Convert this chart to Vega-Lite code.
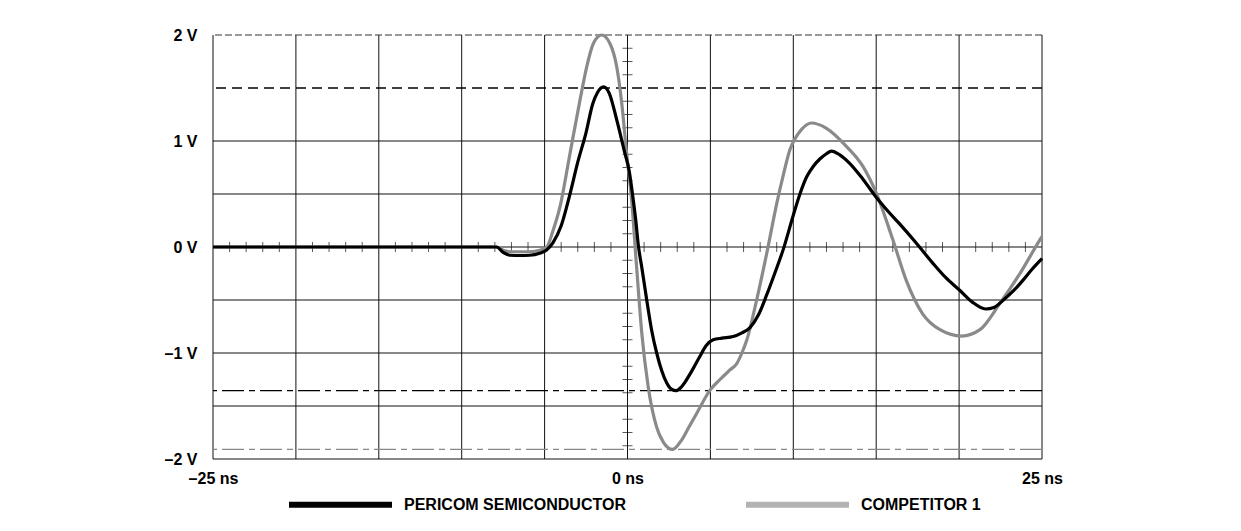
{
  "$schema": "https://vega.github.io/schema/vega-lite/v6.json",
  "width": 829,
  "height": 424,
  "autosize": {"type": "none"},
  "padding": {"left": 213, "top": 35, "right": 199, "bottom": 72},
  "background": "white",
  "config": {
    "view": {"stroke": null},
    "font": "Liberation Sans"
  },
  "layer": [
    {
      "data": {"values": [{"t": -25}, {"t": -20}, {"t": -15}, {"t": -10}, {"t": -5}, {"t": 0}, {"t": 5}, {"t": 10}, {"t": 15}, {"t": 20}, {"t": 25}]},
      "mark": {"type": "rule", "color": "#111", "strokeWidth": 1},
      "encoding": {"x": {"field": "t", "type": "quantitative", "scale": {"domain": [-25, 25], "nice": false, "zero": false}}}
    },
    {
      "data": {"values": [{"v": -2}, {"v": -1.5}, {"v": -1}, {"v": -0.5}, {"v": 0}, {"v": 0.5}, {"v": 1}]},
      "mark": {"type": "rule", "color": "#111", "strokeWidth": 1},
      "encoding": {"y": {"field": "v", "type": "quantitative", "scale": {"domain": [-2, 2], "nice": false, "zero": false}}}
    },
    {
      "data": {"values": [{"v": 1.5}]},
      "mark": {"type": "rule", "color": "#000", "strokeWidth": 1.3, "strokeDash": [10, 6]},
      "encoding": {"y": {"field": "v", "type": "quantitative"}}
    },
    {
      "data": {"values": [{"v": 2}]},
      "mark": {"type": "rule", "color": "#333", "strokeWidth": 1, "strokeDash": [7, 3]},
      "encoding": {"y": {"field": "v", "type": "quantitative"}}
    },
    {
      "data": {"values": [{"v": -1.355}]},
      "mark": {"type": "rule", "color": "#000", "strokeWidth": 1.3, "strokeDash": [22, 5, 6, 5]},
      "encoding": {"y": {"field": "v", "type": "quantitative"}}
    },
    {
      "data": {"values": [{"v": -1.91}]},
      "mark": {"type": "rule", "color": "#888", "strokeWidth": 1.3, "strokeDash": [22, 5, 6, 5]},
      "encoding": {"y": {"field": "v", "type": "quantitative"}}
    },
    {
      "data": {"values": [{"t": -24}, {"t": -23}, {"t": -22}, {"t": -21}, {"t": -19}, {"t": -18}, {"t": -17}, {"t": -16}, {"t": -14}, {"t": -13}, {"t": -12}, {"t": -11}, {"t": -9}, {"t": -8}, {"t": -7}, {"t": -6}, {"t": -4}, {"t": -3}, {"t": -2}, {"t": -1}, {"t": 1}, {"t": 2}, {"t": 3}, {"t": 4}, {"t": 6}, {"t": 7}, {"t": 8}, {"t": 9}, {"t": 11}, {"t": 12}, {"t": 13}, {"t": 14}, {"t": 16}, {"t": 17}, {"t": 18}, {"t": 19}, {"t": 21}, {"t": 22}, {"t": 23}, {"t": 24}]},
      "mark": {"type": "tick", "orient": "vertical", "color": "#111", "size": 10, "thickness": 1},
      "encoding": {
        "x": {"field": "t", "type": "quantitative"},
        "y": {"datum": 0, "type": "quantitative"}
      }
    },
    {
      "data": {"values": [{"v": -1.875}, {"v": -1.75}, {"v": -1.625}, {"v": -1.375}, {"v": -1.25}, {"v": -1.125}, {"v": -0.875}, {"v": -0.75}, {"v": -0.625}, {"v": -0.375}, {"v": -0.25}, {"v": -0.125}, {"v": 0.125}, {"v": 0.25}, {"v": 0.375}, {"v": 0.625}, {"v": 0.75}, {"v": 0.875}, {"v": 1.125}, {"v": 1.25}, {"v": 1.375}, {"v": 1.625}, {"v": 1.75}, {"v": 1.875}]},
      "mark": {"type": "tick", "orient": "horizontal", "color": "#111", "size": 10, "thickness": 1},
      "encoding": {
        "y": {"field": "v", "type": "quantitative"},
        "x": {"datum": 0, "type": "quantitative"}
      }
    },
    {
      "data": {"name": "traces"},
      "mark": {"type": "line", "strokeWidth": 1, "interpolate": "monotone"},
      "encoding": {
        "x": {"field": "ns", "type": "quantitative"},
        "y": {"field": "volts", "type": "quantitative"},
        "detail": {"field": "series", "type": "nominal"},
        "stroke": {
          "field": "series", "type": "nominal",
          "scale": {"domain": ["PERICOM SEMICONDUCTOR", "COMPETITOR 1"], "range": ["#000000", "#b3b3b3"]},
          "legend": {
            "orient": "none", "legendX": 73, "legendY": 415, "direction": "horizontal", "title": null,
            "symbolType": "stroke", "symbolSize": 10609, "symbolStrokeWidth": 6,
            "labelFont": "Liberation Sans", "labelFontWeight": "bold", "labelFontSize": 16, "labelColor": "black",
            "labelOffset": 9, "labelLimit": 400, "columnPadding": 108
          }
        }
      }
    },
    {
      "data": {"name": "traces"},
      "transform": [{"filter": "datum.series == 'COMPETITOR 1'"}],
      "mark": {"type": "line", "strokeWidth": 3.2, "interpolate": "monotone"},
      "encoding": {
        "x": {"field": "ns", "type": "quantitative"},
        "y": {"field": "volts", "type": "quantitative"},
        "color": {"field": "series", "type": "nominal"}
      }
    },
    {
      "data": {"name": "traces"},
      "transform": [{"filter": "datum.series == 'PERICOM SEMICONDUCTOR'"}],
      "mark": {"type": "line", "strokeWidth": 3.2, "interpolate": "monotone"},
      "encoding": {
        "x": {
          "field": "ns", "type": "quantitative",
          "axis": {"values": [-25, 0, 25], "labelExpr": "datum.value == 0 ? '0 ns' : (datum.value < 0 ? '\u201325 ns' : '25 ns')", "title": null, "domain": false, "ticks": false, "grid": false, "labelFlush": false, "labelOverlap": false, "labelFont": "Liberation Sans", "labelFontWeight": "bold", "labelFontSize": 16, "labelColor": "black", "labelPadding": 11}
        },
        "y": {
          "field": "volts", "type": "quantitative",
          "axis": {"values": [-2, -1, 0, 1, 2], "labelExpr": "(datum.value < 0 ? '\u2013' + abs(datum.value) : datum.value) + ' V'", "title": null, "domain": false, "ticks": false, "grid": false, "labelFlush": false, "labelOverlap": false, "labelFont": "Liberation Sans", "labelFontWeight": "bold", "labelFontSize": 16, "labelColor": "black", "labelPadding": 16}
        },
        "color": {
          "field": "series", "type": "nominal",
          "scale": {"domain": ["PERICOM SEMICONDUCTOR", "COMPETITOR 1"], "range": ["#000000", "#8a8a8a"]},
          "legend": null
        }
      }
    }
  ],
  "datasets": {
    "traces": [
      {"series": "PERICOM SEMICONDUCTOR", "ns": -25, "volts": 0},
      {"series": "PERICOM SEMICONDUCTOR", "ns": -15, "volts": 0},
      {"series": "PERICOM SEMICONDUCTOR", "ns": -7.9, "volts": 0},
      {"series": "PERICOM SEMICONDUCTOR", "ns": -7.5, "volts": -0.05},
      {"series": "PERICOM SEMICONDUCTOR", "ns": -7.1, "volts": -0.078},
      {"series": "PERICOM SEMICONDUCTOR", "ns": -6.5, "volts": -0.08},
      {"series": "PERICOM SEMICONDUCTOR", "ns": -5.9, "volts": -0.078},
      {"series": "PERICOM SEMICONDUCTOR", "ns": -5.3, "volts": -0.06},
      {"series": "PERICOM SEMICONDUCTOR", "ns": -4.9, "volts": -0.03},
      {"series": "PERICOM SEMICONDUCTOR", "ns": -4.5, "volts": 0.04},
      {"series": "PERICOM SEMICONDUCTOR", "ns": -4.0, "volts": 0.2},
      {"series": "PERICOM SEMICONDUCTOR", "ns": -3.5, "volts": 0.48},
      {"series": "PERICOM SEMICONDUCTOR", "ns": -3.0, "volts": 0.8},
      {"series": "PERICOM SEMICONDUCTOR", "ns": -2.5, "volts": 1.08},
      {"series": "PERICOM SEMICONDUCTOR", "ns": -2.1, "volts": 1.35},
      {"series": "PERICOM SEMICONDUCTOR", "ns": -1.8, "volts": 1.46},
      {"series": "PERICOM SEMICONDUCTOR", "ns": -1.45, "volts": 1.51},
      {"series": "PERICOM SEMICONDUCTOR", "ns": -1.1, "volts": 1.45},
      {"series": "PERICOM SEMICONDUCTOR", "ns": -0.65, "volts": 1.2},
      {"series": "PERICOM SEMICONDUCTOR", "ns": -0.15, "volts": 0.88},
      {"series": "PERICOM SEMICONDUCTOR", "ns": 0.1, "volts": 0.72},
      {"series": "PERICOM SEMICONDUCTOR", "ns": 0.3, "volts": 0.5},
      {"series": "PERICOM SEMICONDUCTOR", "ns": 0.5, "volts": 0.25},
      {"series": "PERICOM SEMICONDUCTOR", "ns": 0.65, "volts": 0.02},
      {"series": "PERICOM SEMICONDUCTOR", "ns": 0.86, "volts": -0.19},
      {"series": "PERICOM SEMICONDUCTOR", "ns": 1.16, "volts": -0.5},
      {"series": "PERICOM SEMICONDUCTOR", "ns": 1.45, "volts": -0.78},
      {"series": "PERICOM SEMICONDUCTOR", "ns": 1.76, "volts": -1.0},
      {"series": "PERICOM SEMICONDUCTOR", "ns": 2.05, "volts": -1.16},
      {"series": "PERICOM SEMICONDUCTOR", "ns": 2.36, "volts": -1.28},
      {"series": "PERICOM SEMICONDUCTOR", "ns": 2.65, "volts": -1.34},
      {"series": "PERICOM SEMICONDUCTOR", "ns": 2.95, "volts": -1.355},
      {"series": "PERICOM SEMICONDUCTOR", "ns": 3.25, "volts": -1.32},
      {"series": "PERICOM SEMICONDUCTOR", "ns": 3.57, "volts": -1.25},
      {"series": "PERICOM SEMICONDUCTOR", "ns": 3.95, "volts": -1.15},
      {"series": "PERICOM SEMICONDUCTOR", "ns": 4.37, "volts": -1.03},
      {"series": "PERICOM SEMICONDUCTOR", "ns": 4.75, "volts": -0.93},
      {"series": "PERICOM SEMICONDUCTOR", "ns": 5.17, "volts": -0.875},
      {"series": "PERICOM SEMICONDUCTOR", "ns": 5.7, "volts": -0.86},
      {"series": "PERICOM SEMICONDUCTOR", "ns": 6.37, "volts": -0.845},
      {"series": "PERICOM SEMICONDUCTOR", "ns": 6.9, "volts": -0.81},
      {"series": "PERICOM SEMICONDUCTOR", "ns": 7.39, "volts": -0.76},
      {"series": "PERICOM SEMICONDUCTOR", "ns": 7.9, "volts": -0.64},
      {"series": "PERICOM SEMICONDUCTOR", "ns": 8.4, "volts": -0.45},
      {"series": "PERICOM SEMICONDUCTOR", "ns": 8.9, "volts": -0.24},
      {"series": "PERICOM SEMICONDUCTOR", "ns": 9.4, "volts": -0.02},
      {"series": "PERICOM SEMICONDUCTOR", "ns": 10.0, "volts": 0.3},
      {"series": "PERICOM SEMICONDUCTOR", "ns": 10.4, "volts": 0.5},
      {"series": "PERICOM SEMICONDUCTOR", "ns": 10.8, "volts": 0.66},
      {"series": "PERICOM SEMICONDUCTOR", "ns": 11.2, "volts": 0.76},
      {"series": "PERICOM SEMICONDUCTOR", "ns": 11.6, "volts": 0.83},
      {"series": "PERICOM SEMICONDUCTOR", "ns": 12.0, "volts": 0.88},
      {"series": "PERICOM SEMICONDUCTOR", "ns": 12.3, "volts": 0.905},
      {"series": "PERICOM SEMICONDUCTOR", "ns": 12.8, "volts": 0.87},
      {"series": "PERICOM SEMICONDUCTOR", "ns": 13.4, "volts": 0.79},
      {"series": "PERICOM SEMICONDUCTOR", "ns": 14.2, "volts": 0.64},
      {"series": "PERICOM SEMICONDUCTOR", "ns": 15.0, "volts": 0.47},
      {"series": "PERICOM SEMICONDUCTOR", "ns": 15.7, "volts": 0.34},
      {"series": "PERICOM SEMICONDUCTOR", "ns": 16.4, "volts": 0.22},
      {"series": "PERICOM SEMICONDUCTOR", "ns": 17.4, "volts": 0.04},
      {"series": "PERICOM SEMICONDUCTOR", "ns": 18.4, "volts": -0.15},
      {"series": "PERICOM SEMICONDUCTOR", "ns": 19.2, "volts": -0.29},
      {"series": "PERICOM SEMICONDUCTOR", "ns": 20.05, "volts": -0.41},
      {"series": "PERICOM SEMICONDUCTOR", "ns": 20.8, "volts": -0.52},
      {"series": "PERICOM SEMICONDUCTOR", "ns": 21.6, "volts": -0.585},
      {"series": "PERICOM SEMICONDUCTOR", "ns": 22.1, "volts": -0.57},
      {"series": "PERICOM SEMICONDUCTOR", "ns": 22.67, "volts": -0.5},
      {"series": "PERICOM SEMICONDUCTOR", "ns": 23.3, "volts": -0.41},
      {"series": "PERICOM SEMICONDUCTOR", "ns": 23.87, "volts": -0.31},
      {"series": "PERICOM SEMICONDUCTOR", "ns": 24.4, "volts": -0.21},
      {"series": "PERICOM SEMICONDUCTOR", "ns": 25.0, "volts": -0.11},
      {"series": "COMPETITOR 1", "ns": -25, "volts": 0},
      {"series": "COMPETITOR 1", "ns": -15, "volts": 0},
      {"series": "COMPETITOR 1", "ns": -7.9, "volts": 0},
      {"series": "COMPETITOR 1", "ns": -7.5, "volts": -0.03},
      {"series": "COMPETITOR 1", "ns": -7.1, "volts": -0.045},
      {"series": "COMPETITOR 1", "ns": -6.0, "volts": -0.045},
      {"series": "COMPETITOR 1", "ns": -5.3, "volts": -0.03},
      {"series": "COMPETITOR 1", "ns": -4.87, "volts": 0.0},
      {"series": "COMPETITOR 1", "ns": -4.5, "volts": 0.15},
      {"series": "COMPETITOR 1", "ns": -4.07, "volts": 0.38},
      {"series": "COMPETITOR 1", "ns": -3.47, "volts": 0.88},
      {"series": "COMPETITOR 1", "ns": -2.86, "volts": 1.39},
      {"series": "COMPETITOR 1", "ns": -2.46, "volts": 1.7},
      {"series": "COMPETITOR 1", "ns": -2.06, "volts": 1.92},
      {"series": "COMPETITOR 1", "ns": -1.56, "volts": 2.0},
      {"series": "COMPETITOR 1", "ns": -1.06, "volts": 1.92},
      {"series": "COMPETITOR 1", "ns": -0.65, "volts": 1.7},
      {"series": "COMPETITOR 1", "ns": -0.35, "volts": 1.36},
      {"series": "COMPETITOR 1", "ns": -0.05, "volts": 0.88},
      {"series": "COMPETITOR 1", "ns": 0.25, "volts": 0.44},
      {"series": "COMPETITOR 1", "ns": 0.55, "volts": -0.19},
      {"series": "COMPETITOR 1", "ns": 0.86, "volts": -0.81},
      {"series": "COMPETITOR 1", "ns": 1.25, "volts": -1.32},
      {"series": "COMPETITOR 1", "ns": 1.76, "volts": -1.7},
      {"series": "COMPETITOR 1", "ns": 2.16, "volts": -1.84},
      {"series": "COMPETITOR 1", "ns": 2.72, "volts": -1.91},
      {"series": "COMPETITOR 1", "ns": 3.27, "volts": -1.82},
      {"series": "COMPETITOR 1", "ns": 3.7, "volts": -1.7},
      {"series": "COMPETITOR 1", "ns": 4.17, "volts": -1.57},
      {"series": "COMPETITOR 1", "ns": 4.98, "volts": -1.35},
      {"series": "COMPETITOR 1", "ns": 5.58, "volts": -1.25},
      {"series": "COMPETITOR 1", "ns": 6.18, "volts": -1.16},
      {"series": "COMPETITOR 1", "ns": 6.59, "volts": -1.1},
      {"series": "COMPETITOR 1", "ns": 6.9, "volts": -1.0},
      {"series": "COMPETITOR 1", "ns": 7.19, "volts": -0.88},
      {"series": "COMPETITOR 1", "ns": 7.79, "volts": -0.5},
      {"series": "COMPETITOR 1", "ns": 8.45, "volts": -0.02},
      {"series": "COMPETITOR 1", "ns": 9.0, "volts": 0.41},
      {"series": "COMPETITOR 1", "ns": 9.4, "volts": 0.68},
      {"series": "COMPETITOR 1", "ns": 9.8, "volts": 0.92},
      {"series": "COMPETITOR 1", "ns": 10.1, "volts": 1.02},
      {"series": "COMPETITOR 1", "ns": 10.5, "volts": 1.11},
      {"series": "COMPETITOR 1", "ns": 11.1, "volts": 1.17},
      {"series": "COMPETITOR 1", "ns": 12.0, "volts": 1.12},
      {"series": "COMPETITOR 1", "ns": 13.2, "volts": 0.95},
      {"series": "COMPETITOR 1", "ns": 14.2, "volts": 0.76},
      {"series": "COMPETITOR 1", "ns": 15.0, "volts": 0.51},
      {"series": "COMPETITOR 1", "ns": 16.0, "volts": 0.07},
      {"series": "COMPETITOR 1", "ns": 16.8, "volts": -0.31},
      {"series": "COMPETITOR 1", "ns": 17.8, "volts": -0.63},
      {"series": "COMPETITOR 1", "ns": 18.85, "volts": -0.78},
      {"series": "COMPETITOR 1", "ns": 20.15, "volts": -0.84},
      {"series": "COMPETITOR 1", "ns": 21.26, "volts": -0.78},
      {"series": "COMPETITOR 1", "ns": 22.47, "volts": -0.53},
      {"series": "COMPETITOR 1", "ns": 23.67, "volts": -0.25},
      {"series": "COMPETITOR 1", "ns": 24.88, "volts": 0.07},
      {"series": "COMPETITOR 1", "ns": 25.0, "volts": 0.1}
    ]
  }
}
